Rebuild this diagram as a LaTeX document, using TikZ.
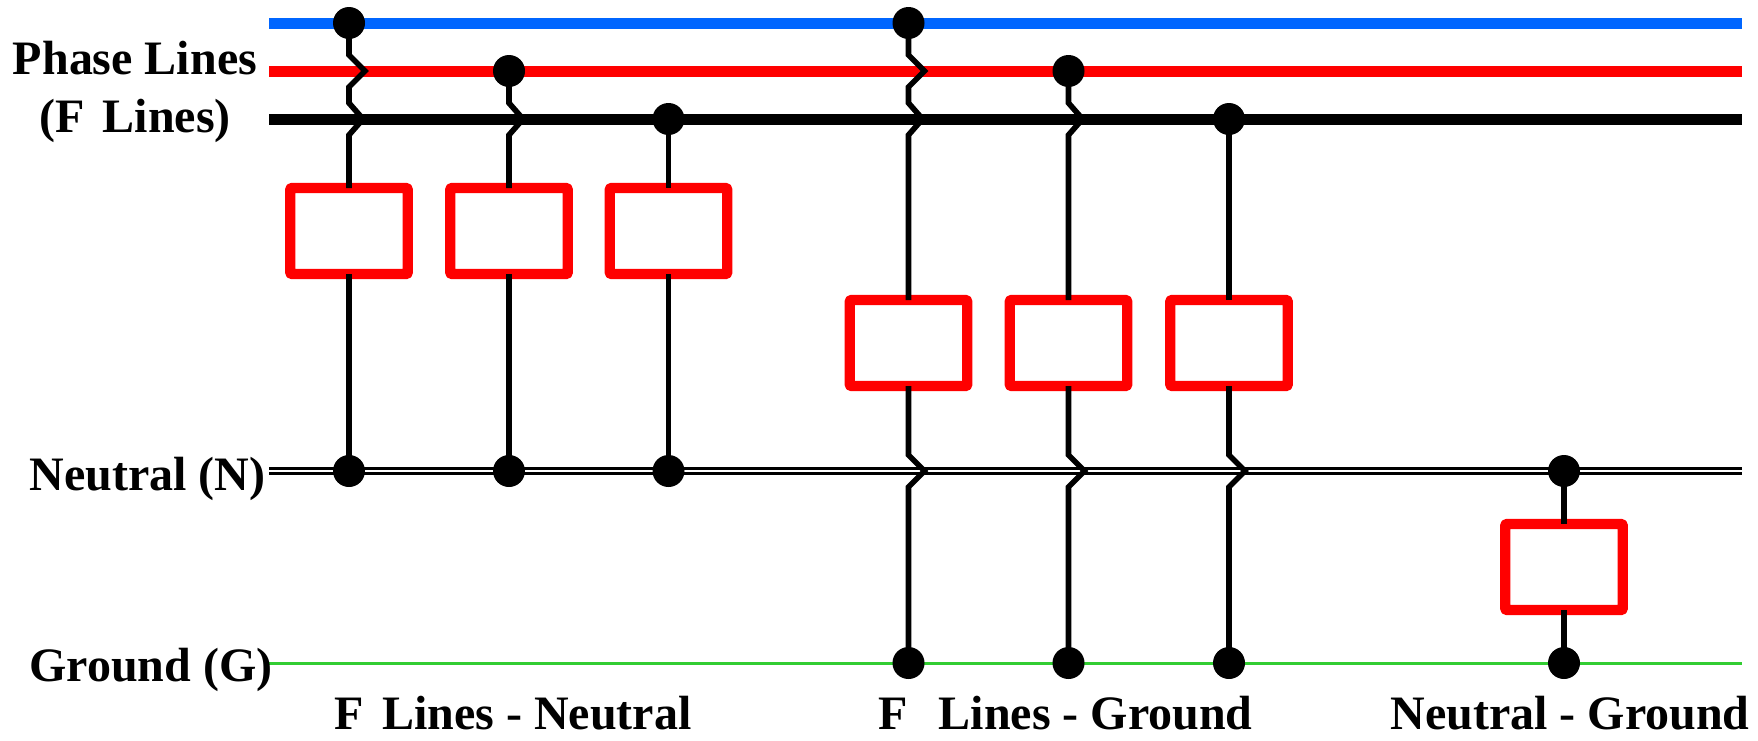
\documentclass[tikz,border=0pt]{standalone}
\usepackage{fontspec}
\setmainfont{Liberation Serif}
\definecolor{busblue}{RGB}{0,102,255}
\definecolor{busgreen}{RGB}{50,205,50}
\tikzset{
  bus/.style={line width=5.5pt},
  wire/.style={line width=2.8pt,black,line join=miter},
  load/.style={draw=red,line width=5.2pt,line join=round,rounded corners=0.5pt,minimum width=58.75pt,minimum height=43pt,inner sep=0pt,outer sep=0pt},
  dot/.style={circle,fill=black,minimum size=16pt,inner sep=0pt,outer sep=0pt},
  lbl/.style={font=\fontsize{24pt}{28pt}\selectfont\bfseries,text=black,inner sep=0pt,anchor=base west},
  lblc/.style={lbl,anchor=base}
}
\begin{document}
\begin{tikzpicture}[x=0.5pt,y=-0.5pt]
\useasboundingbox (0,0) rectangle (1758,740);
% buses
\coordinate (bW) at (269,23); \coordinate (bE) at (1742,23);
\coordinate (rW) at (269,71); \coordinate (rE) at (1742,71);
\coordinate (kW) at (269,119); \coordinate (kE) at (1742,119);
\coordinate (nW) at (269,471); \coordinate (nE) at (1742,471);
\coordinate (gW) at (269,663); \coordinate (gE) at (1742,663);
\coordinate (redT) at (0,55);
\coordinate (blkT) at (0,103);
\coordinate (neuT) at (0,455);
\draw[bus,busblue] (bW) -- (bE);
\draw[bus,red] (rW) -- (rE);
\draw[bus,black] (kW) -- (kE);
\draw[line width=1.3pt,double=white,double distance=1.2pt,black] (nW) -- (nE);
\draw[line width=1.5pt,busgreen] (gW) -- (gE);
% loads
\node[load] (L1) at (349,231) {};
\node[load] (L2) at (509,231) {};
\node[load] (L3) at (668.5,231) {};
\node[load] (L4) at (908.5,343) {};
\node[load] (L5) at (1068.5,343) {};
\node[load] (L6) at (1229,343) {};
\node[load] (L7) at (1564,567) {};
% dots
\node[dot] (t1) at (349,23) {};
\node[dot] (t2) at (509,71) {};
\node[dot] (t3) at (668.5,119) {};
\node[dot] (t4) at (908.5,23) {};
\node[dot] (t5) at (1068.5,71) {};
\node[dot] (t6) at (1229,119) {};
\node[dot] (t7) at (1564,471) {};
\node[dot] (n1) at (349,471) {};
\node[dot] (n2) at (509,471) {};
\node[dot] (n3) at (668.5,471) {};
\node[dot] (g4) at (908.5,663) {};
\node[dot] (g5) at (1068.5,663) {};
\node[dot] (g6) at (1229,663) {};
\node[dot] (g7) at (1564,663) {};
% wires from phase lines
\draw[wire] (t1.center) -- (t1 |- redT) -- ++(16,16) -- ++(-16,16) -- (t1 |- blkT) -- ++(14,16) -- ++(-14,16) -- (L1.north);
\draw[wire] (t2.center) -- (t2 |- blkT) -- ++(14,16) -- ++(-14,16) -- (L2.north);
\draw[wire] (t3.center) -- (L3.north);
\draw[wire] (t4.center) -- (t4 |- redT) -- ++(16,16) -- ++(-16,16) -- (t4 |- blkT) -- ++(14,16) -- ++(-14,16) -- (L4.north);
\draw[wire] (t5.center) -- (t5 |- blkT) -- ++(14,16) -- ++(-14,16) -- (L5.north);
\draw[wire] (t6.center) -- (L6.north);
\draw[wire] (t7.center) -- (L7.north);
% wires to neutral / ground
\draw[wire] (L1.south) -- (n1.center);
\draw[wire] (L2.south) -- (n2.center);
\draw[wire] (L3.south) -- (n3.center);
\draw[wire] (L4.south) -- (L4 |- neuT) -- ++(16,16) -- ++(-16,16) -- (g4.center);
\draw[wire] (L5.south) -- (L5 |- neuT) -- ++(16,16) -- ++(-16,16) -- (g5.center);
\draw[wire] (L6.south) -- (L6 |- neuT) -- ++(16,16) -- ++(-16,16) -- (g6.center);
\draw[wire] (L7.south) -- (g7.center);
% labels
\node[lblc] (a) at (135,74) {Phase Lines};
\node[lblc] (b) at (135,132) {(F\hspace{9.3pt}Lines)};
\node[lbl] (c) at (29,490) {Neutral (N)};
\node[lbl] (d) at (29,681) {Ground (G)};
\node[lbl] (e) at (334,729) {F\hspace{9.3pt}Lines - Neutral};
\node[lbl] (f) at (878,729) {F\hspace{15.5pt}Lines - Ground};
\node[lbl] (h) at (1390,729) {Neutral - Ground};
\end{tikzpicture}
\end{document}
